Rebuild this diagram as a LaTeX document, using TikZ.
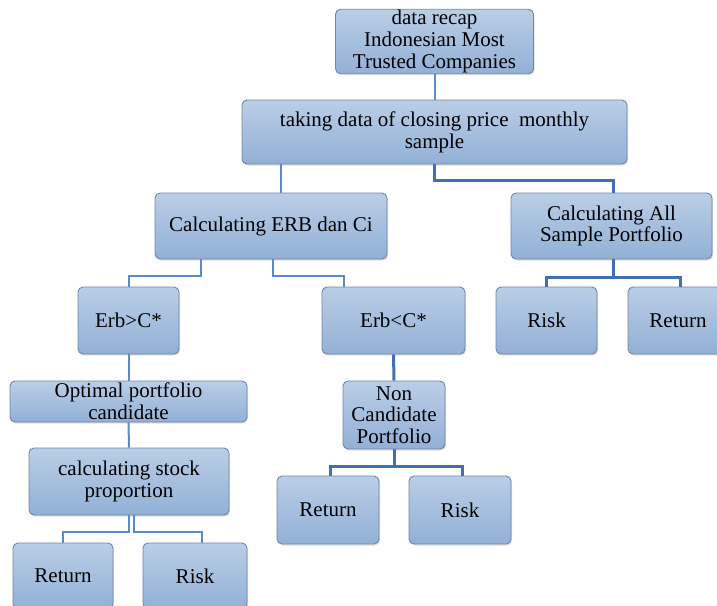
\documentclass[tikz,border=0pt]{standalone}
\usepackage{fontspec}
\setmainfont{Liberation Serif}
\newfontfamily\boxfont{Liberation Serif}
\usetikzlibrary{shadows}
\definecolor{boxtop}{HTML}{BACEE6}
\definecolor{boxbot}{HTML}{92B0D6}
\definecolor{boxline}{HTML}{6F86A4}
\definecolor{lnkcol}{HTML}{5A8BC7}
\definecolor{lnkbcol}{HTML}{3F71B2}
\begin{document}
\begin{tikzpicture}[x=1pt,y=-1pt,
  box/.style 2 args={draw=boxline, line width=0.9pt, rounded corners=5pt,
    top color=boxtop, bottom color=boxbot, align=center, inner sep=1pt,
    minimum width=#1, minimum height=#2,
    font=\boxfont\fontsize{21}{21.7}\selectfont,
    drop shadow={opacity=0.25, shadow xshift=1pt, shadow yshift=-1.5pt, fill=gray}},
  lnk/.style={draw=lnkcol, line width=2pt},
  lnkb/.style={draw=lnkbcol, line width=3pt}]
\useasboundingbox (0,0) rectangle (717,605);
\clip (0,0) rectangle (717,605);
% nodes
\node[box={198pt}{61pt}] (n1) at (434.5,41.5) {data recap\\Indonesian Most\\Trusted Companies};
\node[box={385pt}{64pt}] (n2) at (434.5,132) {taking data of closing price~ monthly\\sample};
\node[box={232pt}{66pt}] (n3) at (271,226) {Calculating ERB dan Ci};
\node[box={201pt}{66pt}] (n4) at (611.5,226) {Calculating All\\Sample Portfolio};
\node[box={101pt}{67pt}] (n5) at (128.5,320.5) {Erb>C*};
\node[box={143pt}{67pt}] (n6) at (393.5,320.5) {Erb<C*};
\node[box={101pt}{67pt}] (n7) at (546.5,320.5) {Risk};
\node[box={100pt}{67pt}] (n8) at (678,320.5) {Return};
\node[box={237pt}{41pt}] (n9) at (128.5,401.5) {Optimal portfolio\\candidate};
\node[box={200pt}{67pt}] (n10) at (129,481.5) {calculating stock\\proportion};
\node[box={100pt}{66pt}] (n11) at (63,576) {Return};
\node[box={104pt}{66pt}] (n12) at (195,576) {Risk};
\node[box={102pt}{68pt}] (n13) at (394,415) {Non\\Candidate\\Portfolio};
\node[box={102pt}{68pt}] (n14) at (328,510) {Return};
\node[box={102pt}{68pt}] (n15) at (460,510) {Risk};
% connectors
\draw[lnk] (n1.south) -- (n2.north);
\draw[lnk] ([xshift=10pt]n3.north |- n2.south) -- ([xshift=10pt]n3.north);
\draw[lnkb] (n2.south) -- ++(0,16) -| ([xshift=1.5pt]n4.north);
\draw[lnk] ([xshift=-70pt]n3.south) -- ++(0,17) -| (n5.north);
\draw[lnk] ([xshift=2pt]n3.south) -- ++(0,17) -| ([xshift=-50pt]n6.north);
\draw[lnkb] ([xshift=1.5pt]n4.south) -- ++(0,18) -| (n7.north);
\draw[lnkb] ([xshift=1.5pt]n4.south) -- ++(0,18) -| ([xshift=2pt]n8.north);
\draw[lnk] (n5.south) -- (n9.north);
\draw[lnk] (n9.south) -- (n10.north);
\draw[lnk] (n10.south) -- ++(0,17) -| (n11.north);
\draw[lnk] ([xshift=5pt]n10.south) -- ++(0,17) -| ([xshift=7pt]n12.north);
\draw[lnkb] (n6.south) -- (n13.north);
\draw[lnkb] (n13.south) -- ++(0,17) -| ([xshift=2pt]n14.north);
\draw[lnkb] (n13.south) -- ++(0,17) -| ([xshift=2pt]n15.north);
\end{tikzpicture}
\end{document}
